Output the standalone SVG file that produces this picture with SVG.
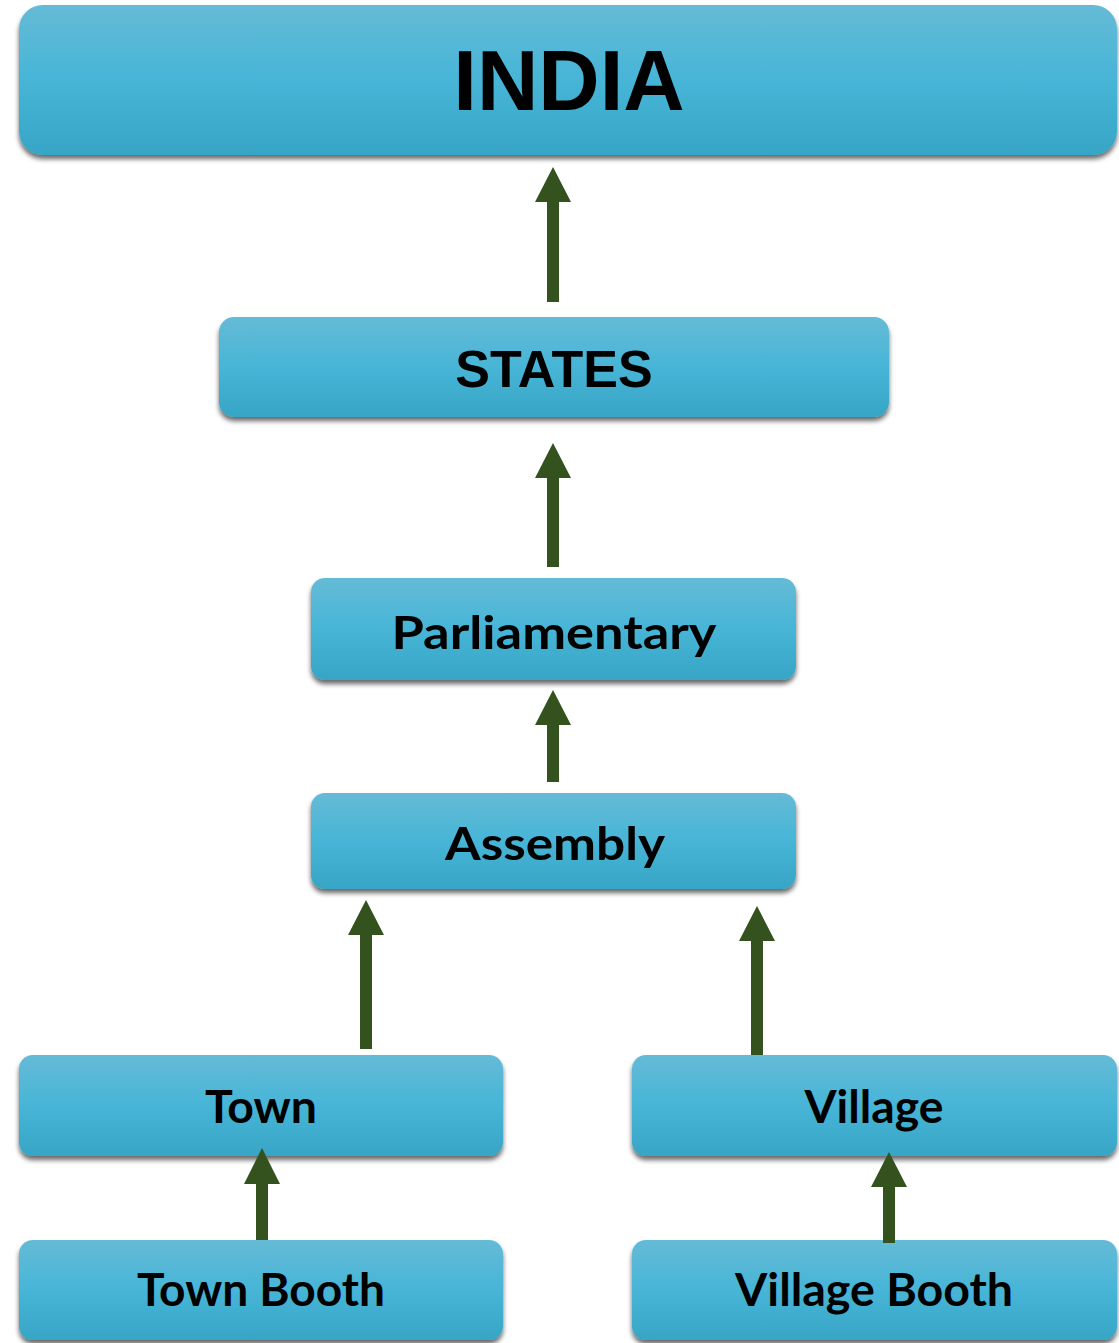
<svg xmlns="http://www.w3.org/2000/svg" width="1119" height="1343" viewBox="0 0 1119 1343">
<defs>
<linearGradient id="g" x1="0" y1="0" x2="0" y2="1">
<stop offset="0" stop-color="#65bbd6"/>
<stop offset="0.5" stop-color="#47b5d7"/>
<stop offset="1" stop-color="#37a5c5"/>
</linearGradient>
<filter id="sh" x="-5%" y="-10%" width="110%" height="130%">
<feGaussianBlur in="SourceAlpha" stdDeviation="2.5"/>
<feOffset dx="0" dy="4" result="b"/>
<feComponentTransfer><feFuncA type="linear" slope="0.6"/></feComponentTransfer>
<feMerge><feMergeNode/><feMergeNode in="SourceGraphic"/></feMerge>
</filter>
</defs>
<style>
.box{fill:url(#g);filter:url(#sh)}
.t1{font-family:"Liberation Sans",Arial,sans-serif;font-weight:bold;fill:#000;text-anchor:middle}
.t2{font-family:Lato,"Open Sans",sans-serif;font-weight:bold;fill:#000;text-anchor:middle;font-size:45px}
.arr{fill:#34521d}
</style>
<rect width="1119" height="1343" fill="#fff"/>
<g id="india"><rect class="box" x="19" y="5" width="1098" height="150" rx="24"/><text class="t1" x="569" y="110" font-size="85">INDIA</text></g>
<g id="states"><rect class="box" x="219" y="317" width="670" height="100" rx="15"/><text class="t1" x="554" y="387" font-size="52">STATES</text></g>
<g id="parliamentary"><rect class="box" x="311" y="578" width="485" height="102" rx="14"/><text class="t2" x="554" y="649" textLength="325" lengthAdjust="spacingAndGlyphs">Parliamentary</text></g>
<g id="assembly"><rect class="box" x="311" y="793" width="485" height="96" rx="14"/><text class="t2" x="555" y="860" textLength="220" lengthAdjust="spacingAndGlyphs">Assembly</text></g>
<g id="town"><rect class="box" x="19" y="1055" width="484" height="101" rx="14"/><text class="t2" x="261" y="1123" textLength="112" lengthAdjust="spacingAndGlyphs">Town</text></g>
<g id="village"><rect class="box" x="632" y="1055" width="485" height="101" rx="14"/><text class="t2" x="874" y="1123" textLength="139" lengthAdjust="spacingAndGlyphs">Village</text></g>
<g id="townbooth"><rect class="box" x="19" y="1240" width="484" height="100" rx="14"/><text class="t2" x="261" y="1306" textLength="248" lengthAdjust="spacingAndGlyphs">Town Booth</text></g>
<g id="villagebooth"><rect class="box" x="632" y="1240" width="485" height="100" rx="14"/><text class="t2" x="874" y="1306" textLength="278" lengthAdjust="spacingAndGlyphs">Village Booth</text></g>
<g id="connectors" class="arr">
<polygon points="553,167 571,202 559,202 559,302 547,302 547,202 535,202"/>
<polygon points="553,443 571,478 559,478 559,567 547,567 547,478 535,478"/>
<polygon points="553,690 571,725 559,725 559,782 547,782 547,725 535,725"/>
<polygon points="366,900 384,935 372,935 372,1049 360,1049 360,935 348,935"/>
<polygon points="757,906 775,941 763,941 763,1055 751,1055 751,941 739,941"/>
<polygon points="262,1148 280,1184 268,1184 268,1240 256,1240 256,1184 244,1184"/>
<polygon points="889,1152 907,1187 895,1187 895,1243 883,1243 883,1187 871,1187"/>
</g>
</svg>
